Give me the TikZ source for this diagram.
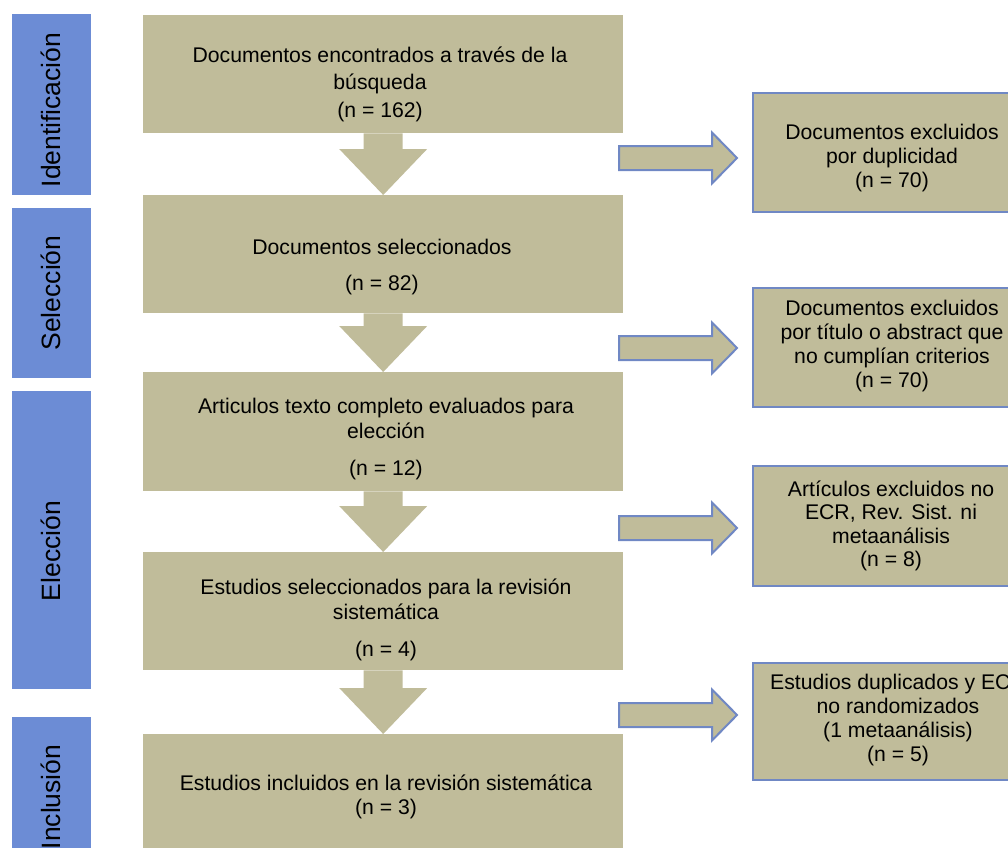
\documentclass[tikz,border=0pt]{standalone}
\usepackage{fontspec}
\setmainfont{Liberation Sans}
\usetikzlibrary{calc}
\definecolor{boxolive}{RGB}{192,188,154}
\definecolor{barblue}{RGB}{108,140,213}
\definecolor{edgeblue}{RGB}{112,136,196}
\tikzset{
  mainbox/.style={fill=boxolive, draw=none, inner sep=0pt, anchor=north west, minimum width=480pt},
  sidebox/.style={fill=boxolive, draw=edgeblue, line width=2pt, inner sep=0pt, anchor=north west, minimum width=282pt},
  bar/.style={fill=barblue, draw=none, inner sep=0pt, anchor=north west, minimum width=79pt},
  bartxt/.style={rotate=90, font=\fontsize{26.5}{30}\selectfont, inner sep=0pt},
  txt/.style={align=center, font=\fontsize{21.2}{25}\selectfont, inner sep=0pt},
  downarrow/.style={fill=boxolive, draw=none},
  sidearrow/.style={fill=boxolive, draw=edgeblue, line width=2pt, line join=miter},
}
\begin{document}
\begin{tikzpicture}[x=1pt,y=-1pt]
\useasboundingbox (0,0) rectangle (1008,847);
\clip (0,0) rectangle (1008,847);
% side bars
\node[bar, minimum height=181pt] (s1) at (12,14) {};
\node[bar, minimum height=170pt] (s2) at (12,208) {};
\node[bar, minimum height=298pt] (s3) at (12,391) {};
\node[bar, minimum height=160pt] (s4) at (12,717) {};
\node[bartxt] (l1) at (51,110) {Identificación};
\node[bartxt] (l2) at (51,293) {Selección};
\node[bartxt] (l3) at (51,551) {Elección};
\node[bartxt] (l4) at (51,797) {Inclusión};
% main boxes
\node[mainbox, minimum height=118pt] (b1) at (143,15) {};
\node[mainbox, minimum height=118pt] (b2) at (143,195) {};
\node[mainbox, minimum height=119pt] (b3) at (143,372) {};
\node[mainbox, minimum height=118pt] (b4) at (143,552) {};
\node[mainbox, minimum height=130pt] (b5) at (143,734) {};
\node[txt] (t1) at (380,84) {Documentos encontrados a través de la\\[2pt] búsqueda\\[3pt] (n = 162)};
\node[txt] (t2) at (382,267) {Documentos seleccionados\\[11pt] (n = 82)};
\node[txt] (t3) at (386,439) {Articulos texto completo evaluados para\\ elección\\[12pt] (n = 12)};
\node[txt] (t4) at (386,620) {Estudios seleccionados para la revisión\\ sistemática\\[12pt] (n = 4)};
\node[txt] (t5) at (386,797) {Estudios incluidos en la revisión sistemática\\[-1pt] (n = 3)};
% down arrows
\foreach \a/\b in {b1/b2,b2/b3,b3/b4,b4/b5}{
  \fill[downarrow] ($(\a.south)+(-19.5,0)$) -- ($(\b.north)+(-19.5,-46)$) -- ($(\b.north)+(-44,-46)$)
    -- (\b.north) -- ($(\b.north)+(44,-46)$) -- ($(\b.north)+(19.5,-46)$) -- ($(\a.south)+(19.5,0)$) -- cycle;
}
% side boxes
\node[sidebox, minimum height=119pt] (r1) at (752,92) {};
\node[sidebox, minimum height=119pt] (r2) at (752,287) {};
\node[sidebox, minimum height=120pt] (r3) at (752,465) {};
\node[sidebox, minimum height=117pt] (r4) at (752,662) {};
\node[txt, font=\fontsize{21.2}{24}\selectfont] (u1) at (892,158) {Documentos excluidos\\ por duplicidad\\ (n = 70)};
\node[txt, font=\fontsize{21.2}{24}\selectfont] (u2) at (892,346) {Documentos excluidos\\ por título o abstract que\\ no cumplían criterios\\ (n = 70)};
\node[txt, font=\fontsize{21.2}{23.5}\selectfont] (u3) at (891,526) {Artículos excluidos no\\ ECR, Rev. Sist. ni\\ metaanálisis\\ (n = 8)};
\node[txt, font=\fontsize{21.2}{24}\selectfont] (u4) at (898,720) {Estudios duplicados y ECR\\ no randomizados\\ (1 metaanálisis)\\ (n = 5)};
% side arrows
\foreach \r/\dy in {r1/5.5, r2/0.5, r3/2, r4/-6.5}{
  \draw[sidearrow] ($(\r.west)+(-15,\dy)$) -- ++(-25,-25.5) -- ++(0,13.5) -- ++(-93,0) -- ++(0,24)
    -- ++(93,0) -- ++(0,13.5) -- cycle;
}
\end{tikzpicture}
\end{document}
